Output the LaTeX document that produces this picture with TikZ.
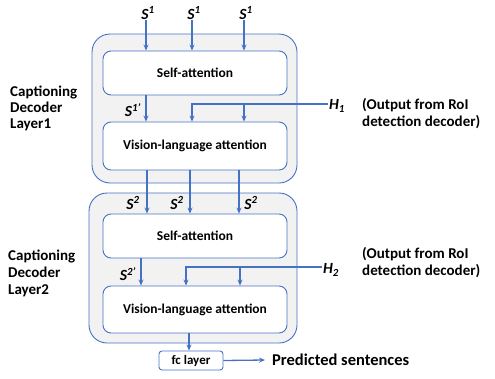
\documentclass[tikz,border=0pt]{standalone}
\usepackage{fontspec}
\setmainfont{Carlito}
\usetikzlibrary{arrows.meta,positioning}
\definecolor{lineblue}{RGB}{68,114,196}
\definecolor{layergray}{RGB}{242,242,242}
\newcommand{\seq}[1]{\textbf{\textit{S\textsuperscript{#1}}}}
\newcommand{\hid}[1]{\textbf{\textit{H\textsubscript{#1}}}}

\begin{document}
\begin{tikzpicture}[x=1pt,y=-1pt]

        \tikzstyle{layerbox}=[draw=lineblue,fill=layergray,rounded corners=18pt,line width=0.9pt]
        \tikzstyle{attbox}=[draw=lineblue,fill=white,rounded corners=8pt,line width=0.9pt,minimum width=184pt,font=\fontsize{13.5}{15}\selectfont\bfseries]
        \tikzstyle{flow}=[draw=lineblue,line width=1.3pt,-{Stealth[length=6pt,width=5pt]}]
        \tikzstyle{sidetext}=[align=left,anchor=west,inner sep=0pt,font=\fontsize{15}{17}\selectfont\bfseries]
        \tikzstyle{seqlabel}=[inner sep=1pt,font=\fontsize{15.5}{17}\selectfont]

        \useasboundingbox (0,0) rectangle (495,378);

        %% Layer 1
        \draw[layerbox] (92,34) rectangle (297,183);
        \node[attbox,minimum height=44pt] (sa1) at (195,73) {Self-attention};
        \node[attbox,minimum height=48pt] (vl1) at (195,146) {Vision-language attention};
        \node[sidetext] (lay1) at (10,108.5) {Captioning\\[-1pt]Decoder\\[-1pt]Layer1};

        \node[seqlabel] (s1a) at (148,13) {\seq{1}};
        \node[seqlabel] (s1b) at (194,13) {\seq{1}};
        \node[seqlabel] (s1c) at (246,13) {\seq{1}};
        \foreach \s in {s1a,s1b,s1c}
            \draw[flow] (\s.south) ++(-2,0) coordinate (t) -- (t |- sa1.north);

        \node[seqlabel] (s1p) at (133,110) {\seq{1’}};
        \draw[flow] (sa1.south -| 146,0) -- (vl1.north -| 146,0);

        \node[seqlabel] (h1) at (337,106) {\hid{1}};
        \coordinate (h1turn) at (192,104);
        \draw[flow] (h1.west |- h1turn) -- (h1turn) -- (vl1.north -| h1turn);
        \draw[flow] (244,104) -- (vl1.north -| 244,0);
        \node[sidetext] (roi1) at (362,113.5) {(Output from RoI\\detection decoder)};

        %% Layer 2
        \draw[layerbox] (89,193) rectangle (297,343);
        \node[attbox,minimum height=44pt] (sa2) at (195,236) {Self-attention};
        \node[attbox,minimum height=47pt] (vl2) at (195,309.5) {Vision-language attention};
        \node[sidetext] (lay2) at (8,273) {Captioning\\Decoder\\Layer2};

        \foreach \x in {147,190,239}
            \draw[flow] (vl1.south -| \x,0) -- (sa2.north -| \x,0);
        \node[seqlabel] (s2a) at (133,203) {\seq{2}};
        \node[seqlabel] (s2b) at (177,203) {\seq{2}};
        \node[seqlabel] (s2c) at (251,203) {\seq{2}};

        \node[seqlabel] (s2p) at (128,274) {\seq{2’}};
        \draw[flow] (sa2.south -| 141,0) -- (vl2.north -| 141,0);

        \node[seqlabel] (h2) at (331,270) {\hid{2}};
        \coordinate (h2turn) at (186,267);
        \draw[flow] (h2.west |- h2turn) -- (h2turn) -- (vl2.north -| h2turn);
        \draw[flow] (240,267) -- (vl2.north -| 240,0);
        \node[sidetext] (roi2) at (362,263) {(Output from RoI\\detection decoder)};

        %% Output
        \node[draw=lineblue,line width=0.9pt,fill=white,rounded corners=3pt,minimum width=64pt,minimum height=19pt,inner sep=0pt,font=\fontsize{13}{15}\selectfont\bfseries] (fc) at (191,360.5) {fc layer};
        \draw[flow] (vl2.south -| 189,0) -- (fc.north -| 189,0);
        \node[anchor=west,inner ysep=0pt,inner xsep=7pt,font=\fontsize{16.5}{18}\selectfont\bfseries] (pred) at (265,360) {Predicted sentences};
        \draw[flow] (fc.east) -- (pred.west);

\end{tikzpicture}
\end{document}
